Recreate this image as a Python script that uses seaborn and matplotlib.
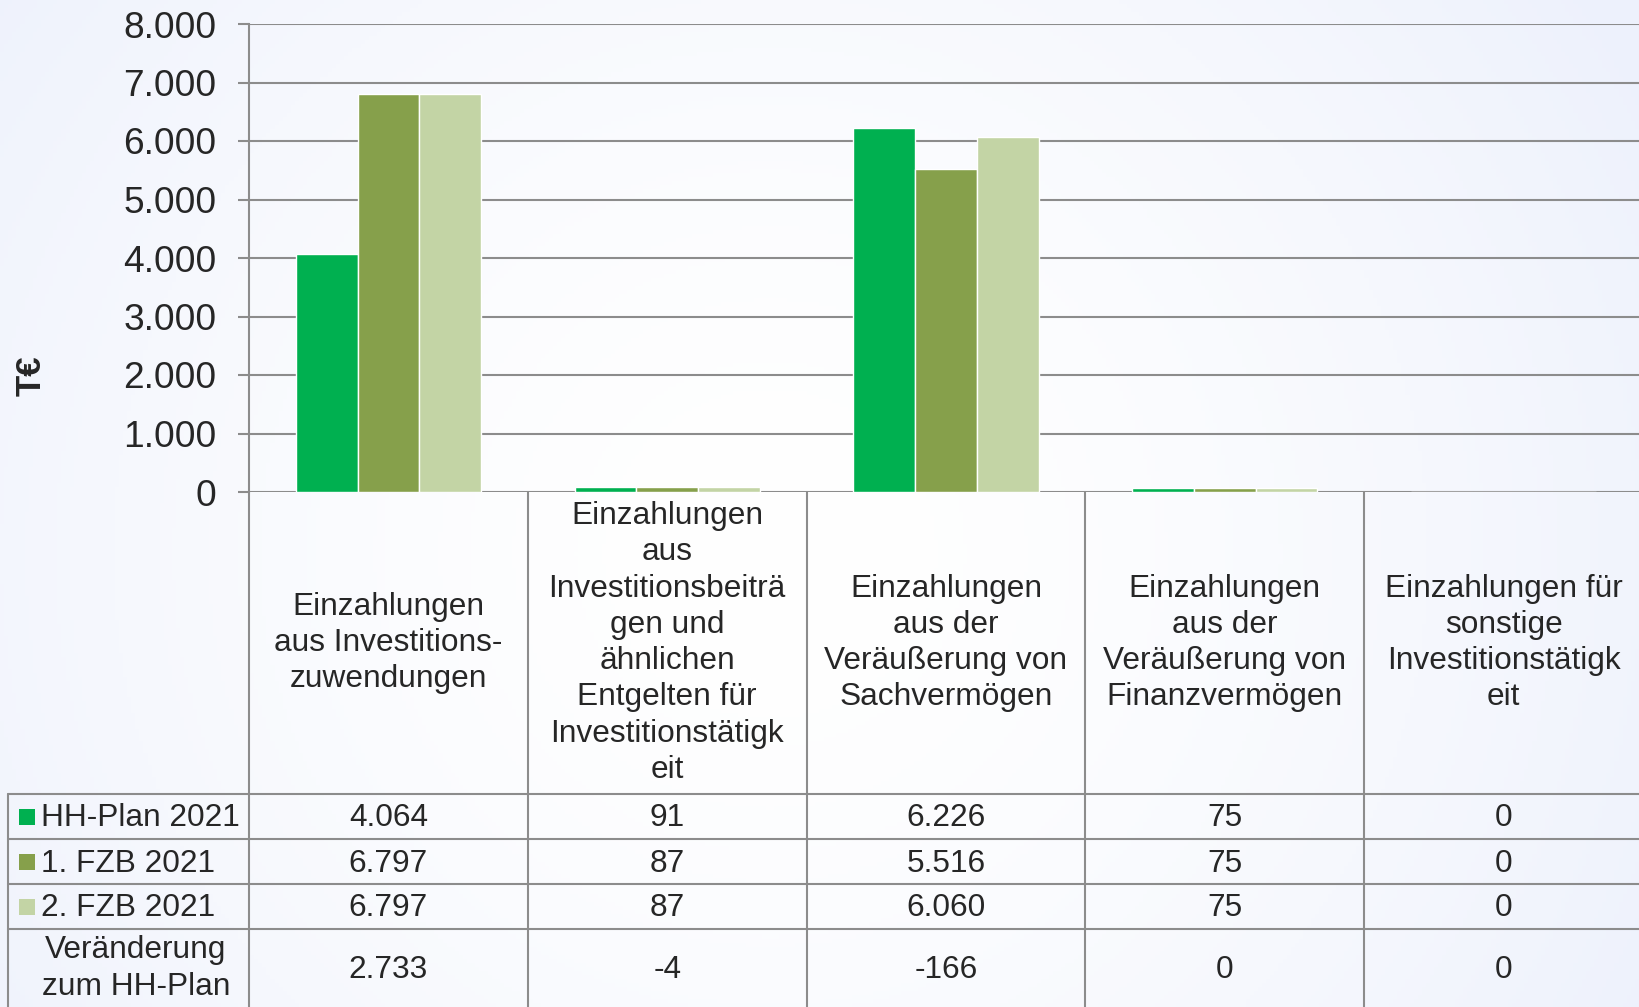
"""Einzahlungen aus Investitionstätigkeit: bar chart with data table below."""

import matplotlib
matplotlib.use("Agg")
import matplotlib.pyplot as plt
import numpy as np
import pandas as pd
import seaborn as sns
from matplotlib.patches import Rectangle

CATEGORIES = [
    "Einzahlungen\naus Investitions-\nzuwendungen",
    "Einzahlungen\naus\nInvestitionsbeiträ\ngen und\nähnlichen\nEntgelten für\nInvestitionstätigk\neit",
    "Einzahlungen\naus der\nVeräußerung von\nSachvermögen",
    "Einzahlungen\naus der\nVeräußerung von\nFinanzvermögen",
    "Einzahlungen für\nsonstige\nInvestitionstätigk\neit",
]
SERIES = ["HH-Plan 2021", "1. FZB 2021", "2. FZB 2021"]
HH_PLAN = [4064, 91, 6226, 75, 0]
FZB_1 = [6797, 87, 5516, 75, 0]
FZB_2 = [6797, 87, 6060, 75, 0]
CHANGE_LABEL = "Veränderung\nzum HH-Plan"
CHANGE = [2733, -4, -166, 0, 0]
Y_TICKS = [0, 1000, 2000, 3000, 4000, 5000, 6000, 7000, 8000]
Y_LABEL = "T€"
COLORS = ["#00B050", "#86A04B", "#C3D4A5"]

W, H = 1639, 1007
LINE = "#8c8c8c"
TABLE_FS = 22.8
TICK_FS = 26.7
LSP = 1.27


def de(v):
    return f"{v:,}".replace(",", ".")


sns.set_style("white")
plt.rcParams["font.family"] = ["Liberation Sans", "DejaVu Sans"]

fig = plt.figure(figsize=(W / 100, H / 100), dpi=100)

# background gradient
bg = fig.add_axes([0, 0, 1, 1], zorder=-10)
gx, gy = np.meshgrid(np.linspace(0, 1, 400), np.linspace(0, 1, 250))
t = np.clip(np.hypot((gx - 0.47) / 0.62, (gy - 0.55) / 1.0), 0, 1) ** 1.6
edge = np.array([237, 241, 252]) / 255
img = (1 - t[..., None]) * np.ones(3) + t[..., None] * edge
bg.imshow(img, aspect="auto", extent=[0, 1, 0, 1])
bg.axis("off")

# bar axes (pixel layout: left 249, right 1643, top 24, zero at 492)
x0, x1, y_top, y_zero = 249, 1643, 24, 492
ax = fig.add_axes([x0 / W, 1 - y_zero / H, (x1 - x0) / W, (y_zero - y_top) / H])
ax.patch.set_alpha(0)

df = pd.DataFrame({
    "category": CATEGORIES * 3,
    "series": [s for s in SERIES for _ in CATEGORIES],
    "value": HH_PLAN + FZB_1 + FZB_2,
})
sns.barplot(data=df, x="category", y="value", hue="series", order=CATEGORIES,
            hue_order=SERIES, palette=COLORS, saturation=1, width=0.664,
            legend=False, ax=ax, zorder=3)

ax.set_xlim(-0.5, 4.5)
ax.set_ylim(0, 8000)
ax.set_yticks(Y_TICKS)
ax.set_yticklabels([de(v) for v in Y_TICKS])
ax.set_xticks([])
ax.set_xlabel("")
ax.set_ylabel("")
ax.yaxis.grid(True, color=LINE, lw=1.5)
ax.set_axisbelow(True)
for s in ["top", "right", "bottom"]:
    ax.spines[s].set_visible(False)
ax.spines["left"].set_color(LINE)
ax.spines["left"].set_linewidth(1.5)
ax.tick_params(axis="y", length=8, width=1.5, color=LINE, pad=15.5,
               labelsize=TICK_FS, left=True)
fig.text(31 / W, 1 - 376 / H, Y_LABEL, rotation=90, fontsize=25,
         fontweight="bold", ha="center", va="center")

# table axes, x in category units, y in pixels
col_w = (x1 - x0) / 5
tx_left = -0.5 - x0 / col_w
tx_right = tx_left + W / col_w
axt = fig.add_axes([0, 0, 1, 1 - y_zero / H])
axt.set_xlim(tx_left, tx_right)
axt.set_ylim(H, y_zero)
axt.axis("off")
axt.patch.set_alpha(0)


def px(xp):
    return tx_left + xp / col_w


rows = [y_zero, 794, 839, 884, 929, 1008]
lbl_left = 8
lw = 1.5
for i in range(6):
    axt.plot([i - 0.5, i - 0.5], [y_zero, H], color=LINE, lw=lw, clip_on=False)
axt.plot([px(lbl_left)] * 2, [rows[1], H], color=LINE, lw=lw)
for r in rows[1:5]:
    axt.plot([px(lbl_left), tx_right], [r, r], color=LINE, lw=lw)

for i, cat in enumerate(CATEGORIES):
    axt.text(i, (rows[0] + rows[1]) / 2, cat, ha="center", va="center",
             fontsize=TABLE_FS, linespacing=LSP)

table_rows = [HH_PLAN, FZB_1, FZB_2, CHANGE]
for k, vals in enumerate(table_rows):
    yc = (rows[k + 1] + rows[k + 2]) / 2
    for i, v in enumerate(vals):
        axt.text(i, yc + 2, de(v), ha="center", va="center", fontsize=TABLE_FS)

sq = 16
for k, name in enumerate(SERIES):
    yc = (rows[k + 1] + rows[k + 2]) / 2
    axt.add_patch(Rectangle((px(19), yc - sq / 2), sq / col_w, sq,
                            color=COLORS[k], lw=0))
    axt.text(px(41), yc + 2, name, ha="left", va="center", fontsize=TABLE_FS)
axt.text(px(136), (rows[4] + rows[5]) / 2, CHANGE_LABEL, ha="center",
         va="center", fontsize=TABLE_FS, linespacing=LSP)

fig.savefig("out.png", dpi=100)
